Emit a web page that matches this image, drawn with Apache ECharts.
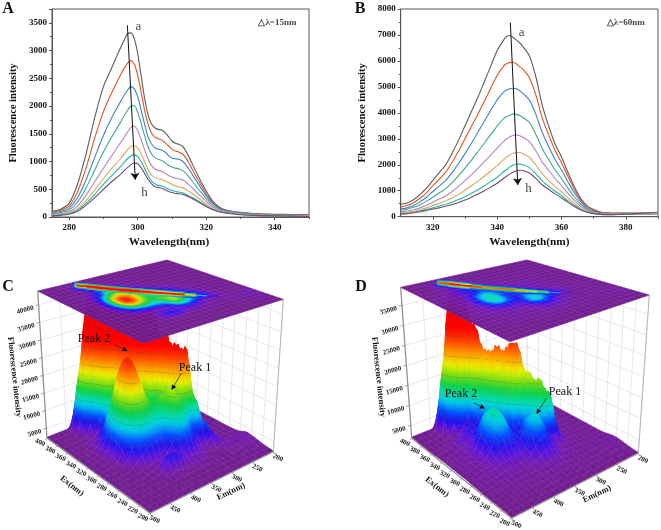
<!DOCTYPE html>
<html><head><meta charset="utf-8">
<style>html,body{margin:0;padding:0;background:#fff}#c{width:661px;height:530px}</style>
<script src="https://cdn.jsdelivr.net/npm/echarts@6/dist/echarts.min.js"></script>
</head><body><div id="c"></div>
<script>
const SERIF='"Liberation Serif","Times New Roman",serif';
const lineNames=['a','b','c','d','e','f','g','h'];
const lineColors=['#5c5c5c','#e8501c','#3f80cc','#3fa88c','#b285c4','#e2a558','#1cb8a4','#7a4a72'];

const wavelengthA=[275,277.5,280,282.5,285,287.5,290,292.5,295,296,297,298,299,300,301,302,303,304,305,306,307,308,309,310,311,312,313,314,315,316,318,320,322,324,326,328,330,335,340,345,350];
const intensityA=[
[100,140,250,600,1150,1800,2350,2700,3050,3180,3300,3320,3220,2950,2550,2150,1850,1680,1610,1580,1570,1520,1450,1370,1330,1310,1280,1200,1080,950,700,470,280,170,120,100,85,60,50,45,40],
[90,120,200,460,900,1430,1900,2250,2560,2680,2770,2820,2760,2560,2260,1930,1680,1520,1440,1410,1390,1340,1280,1220,1190,1170,1140,1070,970,850,630,420,260,160,115,95,80,55,45,40,35],
[70,100,160,350,680,1080,1470,1800,2080,2190,2280,2350,2310,2170,1930,1680,1450,1320,1250,1220,1210,1170,1110,1060,1050,1040,1010,950,860,760,570,380,240,150,110,90,75,50,40,35,30],
[60,80,125,270,530,850,1170,1450,1710,1820,1920,2000,2010,1890,1690,1470,1270,1140,1070,1040,1020,980,930,900,880,870,840,790,720,640,480,330,210,135,100,85,70,45,35,30,25],
[45,60,95,200,400,640,880,1110,1340,1430,1530,1610,1640,1560,1400,1220,1050,930,870,840,830,790,750,720,700,690,670,630,580,520,400,280,180,120,90,75,60,40,30,25,20],
[30,45,75,150,300,490,690,880,1050,1130,1210,1270,1285,1250,1140,1000,860,760,710,690,680,650,620,590,560,540,530,500,460,420,330,230,155,105,80,65,50,35,25,20,15],
[25,38,60,125,250,410,590,750,910,980,1050,1100,1120,1090,1000,880,750,650,600,570,560,530,500,480,460,450,440,410,380,350,280,200,135,95,70,60,45,30,20,15,10],
[20,30,50,105,215,350,500,640,770,830,890,940,975,960,890,790,680,600,550,530,520,490,460,440,425,420,410,390,360,330,260,190,130,90,70,55,40,25,20,15,10]];

const wavelengthB=[310,312,314,316,318,320,322,324,326,328,330,332,334,336,338,340,342,343,344,345,346,347,348,350,352,354,356,358,360,362,364,366,368,370,372,374,378,382,386,390];
const intensityB=[
[480,530,650,850,1100,1400,1700,2000,2450,2950,3500,4050,4600,5200,5800,6400,6800,6950,6980,6900,6800,6700,6550,6200,5400,4300,3500,2800,2300,1700,1150,700,420,280,180,150,140,140,140,130],
[380,430,540,710,920,1200,1450,1720,2100,2530,3000,3480,3950,4450,4950,5450,5800,5900,5940,5950,5880,5780,5680,5350,4700,3800,3150,2550,2080,1550,1050,640,390,250,170,140,130,130,130,120],
[300,340,430,570,750,970,1180,1400,1700,2050,2430,2830,3250,3680,4100,4500,4800,4880,4930,4950,4930,4850,4750,4500,3950,3250,2700,2200,1800,1350,920,570,340,220,150,120,110,110,110,110],
[250,290,360,460,590,750,920,1080,1310,1580,1870,2180,2500,2830,3160,3500,3780,3860,3920,3950,3940,3900,3820,3630,3180,2630,2200,1800,1470,1100,760,480,290,190,130,110,100,100,100,100],
[190,220,270,340,440,560,680,800,970,1170,1390,1620,1860,2120,2380,2640,2900,3000,3080,3130,3150,3120,3060,2890,2540,2110,1780,1470,1200,900,630,400,250,170,120,100,100,100,110,110],
[150,170,210,270,340,430,520,610,720,860,1020,1190,1370,1560,1760,1970,2200,2300,2380,2440,2470,2480,2430,2290,2000,1660,1400,1170,960,720,510,330,210,150,110,90,90,100,120,120],
[110,130,170,220,280,340,410,480,560,660,770,900,1040,1190,1350,1520,1730,1830,1920,1990,2020,2030,2000,1890,1660,1380,1170,980,810,610,430,280,180,130,100,80,90,110,140,160],
[100,120,150,190,240,290,340,400,470,550,640,750,870,1000,1140,1290,1480,1570,1650,1720,1770,1790,1780,1680,1480,1230,1050,880,730,550,390,260,170,120,90,80,90,110,140,170]];

const ticksA=[280,300,320,340], minorA=[290,310,330,350];
const ticksB=[320,340,360,380], minorB=[330,350,370,390];

const exValues=[400,390,380,370,360,350,340,330,320,310,300,290,280,270,260,250,240,230,220,210,200];
const emValues=[200,212,224,236,248,260,272,284,296,308,320,332,344,356,368,380,392,404,416,428,440,452,464,476,488,500];
const exTicks=[400,380,360,340,320,300,280,260,240,220,200];
const emTicks=[500,450,400,350,300,250,200];
const zTicksC=[5000,10000,15000,20000,25000,30000,35000,40000];
const zTicksD=[5000,10000,15000,20000,25000,30000,35000];
const contourLevels=[5,10,15,20,25,30,35];

// intensity in thousands; rows follow exValues, columns follow emValues
const surfaceC=[
[.3,.3,.3,.3,.3,.3,.3,.3,.3,.3,.3,.3,.3,.3,.3,.3,.3,.3,.3,.3,.3,.3,.3,.3,.3,.3],
[.3,.3,.3,.3,.3,.3,.3,.3,.3,.3,.3,.3,.3,.3,.3,.3,.6,4,15,15,6,1,.5,.3,.3,.3],
[.4,.4,.4,.4,.4,.4,.4,.4,.4,.4,.4,.4,.4,.5,.6,1.2,11.4,38,36,19,3.8,.5,.4,.3,.3,.3],
[.4,.4,.4,.4,.4,.4,.4,.4,.4,.4,.4,.5,.5,.7,1.4,11.5,37.5,36,19,4,.8,.5,.4,.4,.3,.3],
[.4,.4,.4,.4,.4,.4,.4,.4,.4,.4,.5,.6,.8,1.5,12,38,37.5,21,6,1.8,1.1,.7,.5,.4,.4,.3],
[.4,.4,.4,.4,.4,.4,.4,.4,.4,.5,.6,.8,1.4,12.4,39,39,12,10.6,5.8,3.7,2,1.1,.6,.4,.4,.3],
[.4,.4,.4,.4,.4,.4,.4,.5,.6,.8,1,1.7,12.5,38,39.5,18,17.5,14.2,11,6.9,3.3,1.5,.7,.5,.4,.3],
[.4,.4,.4,.4,.4,.4,.5,.6,.9,1.2,1.6,12.3,36.6,37.2,17,20,21.5,21.5,16.8,10.3,5,2.1,.9,.5,.4,.3],
[.4,.4,.4,.4,.4,.5,.6,.9,1.6,3,12.8,35.2,34.3,13,15.7,19.8,25.1,25.1,19.6,11.9,5.6,2.1,.8,.5,.4,.3],
[.4,.4,.4,.4,.4,.6,.8,1.4,3,13.5,30,25,12,13,14.5,19,23.2,23.2,18,10.9,5.2,1.9,.8,.5,.4,.3],
[.4,.4,.4,.4,.5,.7,1,2.1,11.7,27,25,15,15,13,13,15,17,16.8,13,7.9,3.7,1.4,.6,.4,.4,.3],
[.4,.4,.4,.5,.6,1,1.4,8,26,24,16,17,13.5,11,10,10,10.5,9.5,7.4,4.5,2.1,.8,.4,.4,.3,.3],
[.4,.4,.4,.4,.5,.9,2.5,12,12,11,13.4,14.3,11.5,7.3,6,5.5,5,4.2,3.2,2,.9,.4,.4,.3,.3,.3],
[.5,.5,.5,.5,.7,1.8,6,6,4.5,6.1,8.8,9.4,7.4,4.4,2.5,1.7,1.8,1.5,1.1,.8,.5,.4,.4,.3,.3,.3],
[.8,.7,.6,.5,.9,3,3,1.8,1.9,2.9,4.2,4.4,3.5,2.2,3,3.4,2.8,1.3,.7,.5,.4,.4,.3,.3,.3,.3],
[1.5,1.4,1.2,1,1.5,1.5,.7,.6,.9,1.4,1.9,2,2.2,3,4,4,3.2,1.7,.8,.5,.4,.3,.3,.3,.3,.3],
[1.3,1.3,1.1,.9,.7,.5,.4,.3,.6,.9,1.1,1.2,1,.9,.9,1.4,1,.6,.4,.3,.3,.3,.3,.3,.3,.3],
[1,1,.9,.8,.6,.5,.4,.4,.5,.5,.5,.5,.5,.5,.5,.5,.4,.4,.3,.3,.3,.3,.3,.3,.3,.3],
[.6,.6,.5,.5,.4,.4,.3,.3,.3,.3,.3,.3,.3,.3,.3,.3,.3,.3,.3,.3,.3,.3,.3,.3,.3,.3],
[.4,.4,.4,.3,.3,.3,.3,.3,.3,.3,.3,.3,.3,.3,.3,.3,.3,.3,.3,.3,.3,.3,.3,.3,.3,.3],
[.2,.2,.2,.2,.2,.2,.2,.2,.2,.2,.2,.2,.2,.2,.2,.2,.2,.2,.2,.2,.2,.2,.2,.2,.2,.2]];

const surfaceD=[
[.3,.3,.3,.3,.3,.3,.3,.3,.3,.3,.3,.3,.3,.3,.3,.3,.3,.3,.3,.3,.3,.3,.3,.3,.3,.3],
[.3,.3,.3,.3,.3,.3,.3,.3,.3,.3,.3,.3,.3,.3,.3,.3,.6,4,14,14,6,1,.5,.3,.3,.3],
[.4,.4,.4,.4,.4,.4,.4,.4,.4,.4,.4,.4,.4,.4,.4,.8,10.8,36,34,18,3.6,.5,.4,.3,.3,.3],
[.5,.5,.5,.5,.5,.5,.5,.5,.5,.5,.5,.5,.5,.5,1,10.7,33.5,31,16.5,3.8,.8,.6,.5,.4,.3,.3],
[.5,.5,.5,.5,.5,.5,.5,.5,.5,.5,.5,.6,.8,1.2,9,27,25,6,4,1.6,1.2,.8,.6,.5,.4,.3],
[.5,.5,.5,.5,.5,.5,.5,.5,.8,.9,1.1,1.3,1.6,7.8,21,20,6,4.5,4,3.2,2.3,1.6,1.1,.8,.5,.4],
[.5,.5,.5,.5,.5,.5,.6,.8,.9,1.1,1.2,1.3,7.5,22.6,20,8,6.6,4.5,3.6,2.5,1.6,1.2,1,.8,.6,.5],
[.5,.5,.5,.5,.5,.6,.8,1,1.2,1.4,1.6,7.4,22.4,20,8,7.6,8.4,8.4,6.5,3.6,2.1,1.4,1,.8,.6,.5],
[.5,.5,.5,.5,.6,.7,.9,1.1,1.3,1.6,8,23,22.7,8,6,7.8,10.4,10.4,8,4.8,2.5,1.5,1.1,.8,.6,.5],
[.5,.5,.5,.5,.6,.7,.9,1.1,1.2,6.1,17.3,15,6,5.3,5,8,10.4,10.4,8,4.8,2.5,1.5,1.1,.8,.6,.5],
[.5,.5,.5,.6,.7,.9,1,1.2,5.4,15.8,14,7.5,7.5,4.8,4.9,6.5,8.4,8.4,6.5,3.6,2.1,1.4,1,.8,.6,.5],
[.5,.5,.5,.6,.7,.9,1.1,4.4,12.6,12,7.5,9.3,9,6.5,4.4,4.2,4.5,4.5,3.6,2.5,1.6,1.2,1,.8,.6,.5],
[.5,.5,.5,.5,.7,.9,1.3,3.2,3.3,3.6,6,8.6,8.8,6.5,3.4,2.7,2.4,2.4,2.1,1.6,1.3,1.1,.9,.8,.6,.4],
[.5,.5,.5,.5,.5,.8,.9,1.1,1.4,2.3,3.7,5,5,3.7,2.3,1.6,1.5,1.5,1.4,1.2,1.1,1,.8,.7,.5,.4],
[.6,.6,.6,.6,.6,.8,.9,1,1.2,1.6,2.3,2.9,2.9,2.3,1.6,1.2,1.1,1,1,1,.9,.9,.8,.6,.4,.3],
[.9,.9,.8,.7,.6,.6,.7,.8,.9,1,1.2,1.5,1.5,1.2,1,.9,.9,.9,.9,.9,.8,.7,.6,.5,.3,.3],
[1,1,.9,.8,.7,.6,.6,.7,.8,.9,1,1,1,.9,.9,.8,.8,.8,.7,.7,.6,.5,.4,.3,.3,.3],
[.8,.8,.7,.6,.5,.5,.5,.5,.6,.6,.6,.6,.6,.6,.6,.6,.5,.5,.5,.5,.4,.4,.3,.3,.3,.3],
[.5,.5,.5,.4,.4,.4,.4,.4,.4,.4,.4,.4,.4,.4,.4,.4,.4,.3,.3,.3,.3,.3,.3,.3,.3,.3],
[.3,.3,.3,.3,.3,.3,.3,.3,.3,.3,.3,.3,.3,.3,.3,.3,.3,.3,.3,.3,.3,.3,.3,.3,.3,.3],
[.2,.2,.2,.2,.2,.2,.2,.2,.2,.2,.2,.2,.2,.2,.2,.2,.2,.2,.2,.2,.2,.2,.2,.2,.2,.2]];

// layout of the two 3D boxes (screen corners: L left, F front, R right, B back)
const boxC={floor:{L:[47,438.3],F:[150,513.3],R:[273.3,451.7],B:[163,393]},top:{L:[37.7,291],F:[143.3,343.3],R:[283.3,299.3],B:[167,260]},span:41.7,floorZ:2.2,data:surfaceC,zTicks:zTicksC};
const boxD={floor:{L:[411.7,438.3],F:[511.7,518.3],R:[638.3,453.3],B:[527,393]},top:{L:[400.7,287.3],F:[510,341.7],R:[649.3,295],B:[527,260]},span:37.7,floorZ:1.8,data:surfaceD,zTicks:zTicksD};

const colorStops=[[0,[110,26,134]],[1.2,[114,24,168]],[2.6,[92,16,216]],[4.5,[26,16,240]],[6.5,[0,80,255]],[8.5,[0,192,240]],[10,[0,224,200]],[13,[16,208,64]],[15.5,[128,224,16]],[18,[240,240,0]],[21,[255,152,0]],[24,[255,64,0]],[27,[255,0,0]],[44,[224,0,0]]];
function colorAt(z){
  if(z<=0)return 'rgb(110,26,134)';
  for(let k=1;k<colorStops.length;k++){
    if(z<=colorStops[k][0]){
      const a=colorStops[k-1],b=colorStops[k],f=(z-a[0])/(b[0]-a[0]);
      return 'rgb('+a[1].map((c,m)=>Math.round(c+(b[1][m]-c)*f)).join(',')+')';
    }
  }
  return 'rgb(224,0,0)';
}
function mix(p,q,f){return [p[0]+(q[0]-p[0])*f,p[1]+(q[1]-p[1])*f];}
function bil(c,s,t){return mix(mix(c.R,c.F,s),mix(c.B,c.L,s),t);}
function sOf(em){return (em-emValues[0])/(emValues[emValues.length-1]-emValues[0]);}
function tOf(ex){return (ex-200)/200;}
function project(box,em,ex,z){return mix(bil(box.floor,sOf(em),tOf(ex)),bil(box.top,sOf(em),tOf(ex)),z/box.span);}

// display mesh: a smooth spline through the read values, for drawing only
const SUB=3;
function cr(p0,p1,p2,p3,f){return .5*(2*p1+(p2-p0)*f+(2*p0-5*p1+4*p2-p3)*f*f+(3*p1-p0-3*p2+p3)*f*f*f);}
function refine(mat){
  const R=mat.length,C=mat[0].length,rr=[];
  const at=(i,j)=>mat[Math.max(0,Math.min(R-1,i))][Math.max(0,Math.min(C-1,j))];
  for(let I=0;I<=(R-1)*SUB;I++){
    const i=Math.floor(I/SUB),f=I/SUB-i,row=[];
    for(let J=0;J<=(C-1)*SUB;J++){
      const j=Math.floor(J/SUB),g=J/SUB-j,v=[];
      for(let k=-1;k<=2;k++)v.push(cr(at(i+k,j-1),at(i+k,j),at(i+k,j+1),at(i+k,j+2),g));
      row.push(Math.max(.1,cr(v[0],v[1],v[2],v[3],f)));
    }
    rr.push(row);
  }
  return rr;
}
function exAt(I){const i=Math.min(exValues.length-2,Math.floor(I/SUB));return exValues[i]+(exValues[i+1]-exValues[i])*(I/SUB-i);}
function emAt(J){const j=Math.min(emValues.length-2,Math.floor(J/SUB));return emValues[j]+(emValues[j+1]-emValues[j])*(J/SUB-j);}
// the ridge of scattered light sits on a diagonal of the matrix
function ridgeCol(i){return 19-i;}
function withoutRidge(mat){
  return mat.map((row,i)=>{
    const r=ridgeCol(i);
    if(i<1||i>14)return row;
    const out=row.slice(),a=row[r-2],b=row[r+3];
    for(let k=-1;k<=2;k++)out[r+k]=a+(b-a)*(k+2)/5;
    return out;
  });
}

function quadFill(pts,zs){
  const zmin=Math.min(...zs),zmax=Math.max(...zs);
  if(zmax-zmin<.3)return colorAt((zmin+zmax)/2);
  const ys=pts.map(p=>p[1]),y0=Math.min(...ys),y1=Math.max(...ys);
  const n=Math.min(10,Math.max(2,Math.ceil((zmax-zmin)/1.5)));
  const stops=[];
  for(let k=0;k<=n;k++)stops.push({offset:k/n,color:colorAt(zmax-(zmax-zmin)*k/n)});
  return new echarts.graphic.LinearGradient(0,y0,0,y1,stops,true);
}
function surfaceSeries(box){
  const fine=refine(box.data),items=[];
  for(let I=0;I<fine.length-1;I++)for(let J=0;J<fine[0].length-1;J++)items.push([I,J]);
  return {type:'custom',coordinateSystem:'none',z:3,silent:true,animation:false,progressive:0,data:items,
    renderItem(params,api){
      const I=api.value(0),J=api.value(1),base=params.dataIndex*4;
      const cells=[[I,J],[I,J+1],[I+1,J+1],[I+1,J]];
      const zs=cells.map(c=>fine[c[0]][c[1]]);
      const pts=cells.map((c,k)=>project(box,emAt(c[1]),exAt(c[0]),zs[k]));
      const fill=quadFill(pts,zs);
      const tall=Math.max(...zs)>6;
      const meshCol=tall?'rgba(110,110,110,.16)':'rgba(178,160,200,.4)';
      const kids=[{type:'polygon',z2:base,shape:{points:pts},style:{fill:fill,stroke:fill,lineWidth:.6}}];
      if(I%SUB===0)kids.push({type:'polyline',z2:base+1,shape:{points:[pts[0],pts[1]]},style:{stroke:meshCol,lineWidth:.4,fill:'none'}});
      if(J%SUB===0)kids.push({type:'polyline',z2:base+1,shape:{points:[pts[0],pts[3]]},style:{stroke:meshCol,lineWidth:.4,fill:'none'}});
      contourLevels.forEach(L=>{
        const cross=[];
        for(let e=0;e<4;e++){
          const z1=zs[e],z2=zs[(e+1)%4];
          if((z1-L)*(z2-L)<0)cross.push(mix(pts[e],pts[(e+1)%4],(L-z1)/(z2-z1)));
        }
        if(cross.length===2)kids.push({type:'polyline',z2:base+2,shape:{points:cross},style:{stroke:'rgba(75,70,45,.5)',lineWidth:.55,fill:'none'}});
      });
      return {type:'group',children:kids};
    }};
}
function planeSeries(box){
  const fine=refine(withoutRidge(box.data)),items=[];
  for(let I=0;I<fine.length-1;I++)for(let J=0;J<fine[0].length-1;J++)items.push([I,J]);
  return {type:'custom',coordinateSystem:'none',z:5,silent:true,animation:false,progressive:0,data:items,
    renderItem(params,api){
      const I=api.value(0),J=api.value(1);
      const cells=[[I,J],[I,J+1],[I+1,J+1],[I+1,J]];
      const pts=cells.map(c=>project(box,emAt(c[1]),exAt(c[0]),box.span));
      const col=colorAt((fine[I][J]+fine[I][J+1]+fine[I+1][J]+fine[I+1][J+1])/4);
      return {type:'polygon',z2:params.dataIndex,shape:{points:pts},style:{fill:col,stroke:col,lineWidth:.5}};
    }};
}
function streakSeries(box){
  const layers=[[6,.3],[3.6,.6],[1.6,1]],items=[];
  layers.forEach((layer,l)=>{for(let i=1;i<14;i++)items.push([l,i]);});
  const pt=i=>{const r=ridgeCol(i),z=Math.max(box.data[i][r],box.data[i][r+1]);return {p:project(box,(emValues[r]+emValues[r+1])/2,exValues[i],box.span),z};};
  return {type:'custom',coordinateSystem:'none',z:6,silent:true,animation:false,progressive:0,data:items,
    renderItem(params,api){
      const L=layers[api.value(0)],i=api.value(1),a=pt(i),b=pt(i+1),z=(a.z+b.z)/2;
      return {type:'polyline',z2:api.value(0)*100+i,shape:{points:[a.p,b.p]},style:{stroke:colorAt(z*L[1]),lineWidth:L[0]*Math.min(1,.35+z/30),lineCap:'round',fill:'none'}};
    }};
}
function planeMeshSeries(box){
  const items=[];
  exValues.forEach((ex)=>items.push(['ex',ex]));
  emValues.forEach((em)=>items.push(['em',em]));
  return {type:'custom',coordinateSystem:'none',z:7,silent:true,animation:false,progressive:0,data:items,
    renderItem(params){
      const kind=items[params.dataIndex][0],v=items[params.dataIndex][1];
      const p=kind==='ex'?[project(box,200,v,box.span),project(box,500,v,box.span)]:[project(box,v,200,box.span),project(box,v,400,box.span)];
      return {type:'polyline',shape:{points:p},style:{stroke:'rgba(175,160,195,.3)',lineWidth:.4,fill:'none'}};
    }};
}
function wallSeries(box){
  const items=[];
  emTicks.forEach(v=>items.push(['wem',v]));
  exTicks.forEach(v=>items.push(['wex',v]));
  box.zTicks.forEach(v=>{items.push(['zl',v]);items.push(['zr',v]);});
  return {type:'custom',coordinateSystem:'none',z:1,silent:true,animation:false,progressive:0,data:items,
    renderItem(params){
      const it=items[params.dataIndex],v=it[1],col='#dcdde6';
      let p;
      if(it[0]==='wem')p=[project(box,v,400,0),project(box,v,400,box.span)];
      if(it[0]==='wex')p=[project(box,200,v,0),project(box,200,v,box.span)];
      const z=v/1000-box.floorZ;
      if(it[0]==='zl')p=[project(box,500,400,z),project(box,200,400,z)];
      if(it[0]==='zr')p=[project(box,200,400,z),project(box,200,200,z)];
      return {type:'polyline',shape:{points:p},style:{stroke:col,lineWidth:.7,fill:'none'}};
    }};
}
function axisSeries(box){
  const items=[];
  items.push(['edge',500,400,0,500,200,0],['edge',500,200,0,200,200,0],['edge',500,400,0,500,400,box.span],['edgeL',200,200,0,200,200,box.span]);
  exTicks.forEach(v=>items.push(['ex',v]));
  emTicks.forEach(v=>items.push(['em',v]));
  box.zTicks.forEach(v=>items.push(['z',v]));
  const font='bold 7px '+SERIF;
  return {type:'custom',coordinateSystem:'none',z:4,silent:true,animation:false,progressive:0,data:items,
    renderItem(params){
      const it=items[params.dataIndex];
      if(it[0]==='edge'||it[0]==='edgeL'){
        return {type:'polyline',shape:{points:[project(box,it[1],it[2],it[3]),project(box,it[4],it[5],it[6])]},style:{stroke:it[0]==='edge'?'#8e8e8e':'#b0b0b4',lineWidth:it[0]==='edge'?1.2:.9,fill:'none'}};
      }
      const v=it[1];let p,lab,q,rot,align='center';
      if(it[0]==='ex'){p=project(box,500,v,0);q=[p[0]-2,p[1]+1.6];lab=[p[0]-7,p[1]+4.4];rot=-25;}
      if(it[0]==='em'){p=project(box,v,200,0);q=[p[0]+1.4,p[1]+2.2];lab=[p[0]+4.6,p[1]+6.2];rot=-25;}
      if(it[0]==='z'){p=project(box,500,400,v/1000-box.floorZ);q=[p[0]-3,p[1]+.8];lab=[p[0]-5,p[1]+3];rot=15;align='right';}
      return {type:'group',children:[
        {type:'polyline',shape:{points:[p,q]},style:{stroke:'#777',lineWidth:.7,fill:'none'}},
        {type:'text',x:lab[0],y:lab[1],rotation:rot*Math.PI/180,style:{text:String(v),font:font,fill:'#222',align:align,verticalAlign:'middle'}}
      ]};
    }};
}

function lineSeries(xs,rows,axis){
  return rows.map((ys,k)=>({type:'line',name:lineNames[k],xAxisIndex:axis,yAxisIndex:axis,data:ys.map((y,i)=>[xs[i],y]),showSymbol:false,symbol:'none',smooth:.25,lineStyle:{color:lineColors[k],width:1.1},itemStyle:{color:lineColors[k]},z:2,animation:false,silent:true}));
}
function arrowSeries(axis,from,to){
  return {type:'line',xAxisIndex:axis,yAxisIndex:axis,data:[],z:4,animation:false,silent:true,
    markLine:{silent:true,animation:false,symbol:['none','arrow'],symbolSize:7,label:{show:false},lineStyle:{color:'#111',width:1,type:'solid'},data:[[{coord:from},{coord:to}]]}};
}
function noteSeries(axis,notes){
  return {type:'scatter',xAxisIndex:axis,yAxisIndex:axis,symbolSize:0,z:5,animation:false,silent:true,
    data:notes.map(n=>({value:[n[0],n[1]],label:{show:true,position:'inside',formatter:n[2],fontFamily:SERIF,fontSize:n[3],fontWeight:n[4],color:'#111',textBorderWidth:0}}))};
}
function xAx(min,max,ticks,minor,grid,shift){
  return [{type:'value',gridIndex:grid,min,max,name:'Wavelength(nm)',nameLocation:'middle',nameGap:20,nameTextStyle:{fontFamily:SERIF,fontWeight:'bold',fontSize:11.3,color:'#111',padding:[0,shift,0,0]},
    axisLine:{show:true,onZero:false,lineStyle:{color:'#555',width:1}},axisTick:{show:true,length:3,customValues:ticks,lineStyle:{color:'#555'}},axisLabel:{customValues:ticks,fontFamily:SERIF,fontWeight:'bold',fontSize:9,color:'#111',margin:6},splitLine:{show:false}},
   {type:'value',gridIndex:grid,min,max,position:'bottom',axisLine:{show:false},axisTick:{show:true,length:2,customValues:minor,lineStyle:{color:'#555'}},axisLabel:{show:false},splitLine:{show:false}}];
}
function yAx(max,interval,grid,gap){
  return {type:'value',gridIndex:grid,min:0,max,interval,name:'Fluorescence intensity',nameLocation:'middle',nameGap:gap,nameTextStyle:{fontFamily:SERIF,fontWeight:'bold',fontSize:10.5,color:'#111'},
    axisLine:{show:true,lineStyle:{color:'#555',width:1}},axisTick:{show:true,length:3,lineStyle:{color:'#555'}},minorTick:{show:true,splitNumber:2,length:2,lineStyle:{color:'#555'}},
    axisLabel:{showMaxLabel:max===8000,formatter:v=>String(v),fontFamily:SERIF,fontWeight:'bold',fontSize:9,color:'#111',margin:5},splitLine:{show:false}};
}
function txt(text,x,y,size,weight,rot){
  return {type:'text',z:100,x,y,rotation:(rot||0)*Math.PI/180,silent:true,style:{text,font:weight+' '+size+'px '+SERIF,fill:'#111',align:'center',verticalAlign:'middle'}};
}
function arrow(x1,y1,x2,y2){
  const a=Math.atan2(y2-y1,x2-x1),L=5,W=2.4;
  const bx=x2-L*Math.cos(a),by=y2-L*Math.sin(a);
  return [{type:'line',z:100,silent:true,shape:{x1,y1,x2:bx,y2:by},style:{stroke:'#222',lineWidth:.7}},
    {type:'polygon',z:100,silent:true,shape:{points:[[x2,y2],[bx+W*Math.sin(a),by-W*Math.cos(a)],[bx-W*Math.sin(a),by+W*Math.cos(a)]]},style:{fill:'#000'}}];
}

const panelLetters=[['A',8,9],['B',360,9],['C',8,287],['D',361,287]];
const peakNotes=[['Peak 2',94,339],['Peak 1',195,368],['Peak 2',461,394],['Peak 1',565,392]];
const peakArrows=[[115,345,127.5,351],[181.5,373,171.5,390],[474,403,485,408.5],[546.5,398,536.5,414]];
const axisTitles=[
 ['Fluorescence intensity',14.5,377,84],['Ex(nm)',72,486,38],['Em(nm)',231,491.5,-25],
 ['Fluorescence intensity',378.5,377,84],['Ex(nm)',437,487,38],['Em(nm)',597,494,-25]];

const chart=echarts.init(document.getElementById('c'),null,{renderer:'canvas'});
const graphics=[];
panelLetters.forEach(p=>graphics.push(txt(p[0],p[1],p[2],16,'bold')));
peakNotes.forEach(p=>graphics.push(txt(p[0],p[1],p[2],12,'normal')));
peakArrows.forEach(a=>graphics.push(...arrow(a[0],a[1],a[2],a[3])));
axisTitles.forEach(a=>graphics.push(txt(a[0],a[1],a[2],8.5,'bold',-a[3])));

chart.setOption({
  backgroundColor:'#fff',animation:false,
  grid:[{left:52,top:9,width:257,height:208,show:true,borderColor:'#555',borderWidth:1,backgroundColor:'transparent'},
        {left:400.7,top:9,width:257.3,height:207.7,show:true,borderColor:'#555',borderWidth:1,backgroundColor:'transparent'}],
  xAxis:[...xAx(275,350,ticksA,minorA,0,23),...xAx(310,390,ticksB,minorB,1,0)],
  yAxis:[yAx(3750,500,0,33),yAx(3750,500,0,33),yAx(8000,1000,1,33),yAx(8000,1000,1,33)].map((a,i)=>i%2?Object.assign({},a,{name:'',axisLine:{show:false},axisTick:{show:false},minorTick:{show:false},axisLabel:{show:false}}):a),
  graphic:graphics,
  series:[
    ...lineSeries(wavelengthA,intensityA,0),
    ...lineSeries(wavelengthB,intensityB,2),
    arrowSeries(0,[297,3456],[299.3,670]),
    arrowSeries(2,[344.1,7474],[346.4,1220]),
    noteSeries(0,[[300.2,3426,'a',13,'normal'],[302,443,'h',13,'normal'],[340.8,3498,'△λ=15nm',9,'bold']]),
    noteSeries(2,[[347.6,7088,'a',13,'normal'],[349.7,1091,'h',13,'normal'],[380,7474,'△λ=60nm',9,'bold']]),
    wallSeries(boxC),surfaceSeries(boxC),axisSeries(boxC),planeSeries(boxC),streakSeries(boxC),planeMeshSeries(boxC),
    wallSeries(boxD),surfaceSeries(boxD),axisSeries(boxD),planeSeries(boxD),streakSeries(boxD),planeMeshSeries(boxD)
  ]
});
</script></body></html>
